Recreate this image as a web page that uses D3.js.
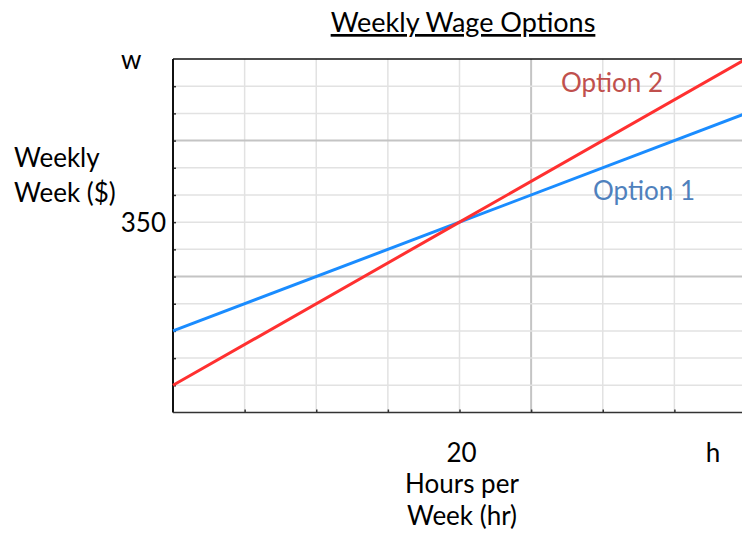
<!DOCTYPE html>
<html>
<head>
<meta charset="utf-8">
<title>Weekly Wage Options</title>
<script src="https://cdn.jsdelivr.net/npm/d3@7/dist/d3.min.js"></script>
<style type="text/css">
	body { margin: 0; background: #fff; }
	text { font-family: Lato, "Open Sans", sans-serif; }
	.minor { stroke: #e2e2e2; stroke-width: 1.5px; }
	.major { stroke: #c4c4c4; stroke-width: 2px; }
</style>
</head>
<body>
<script type="text/javascript">

// data
var hours = [0, 20, 40];
var option1 = [150, 350, 550];
var option2 = [50, 350, 650];
var seriesNames = ["Option 1", "Option 2"];
var yTickLabels = [350];
var xTickLabels = [20];

var width = 742,
    height = 539;

var x = d3.scaleLinear().domain([0, 40]).range([173, 746]);
var y = d3.scaleLinear().domain([0, 650]).range([412.5, 59]);

var svg = d3.select("body").append("svg").attr("width", width).attr("height", height);

// grid
var xGrid = d3.range(5, 45, 5);
var yGrid = d3.range(50, 650, 50);
svg.selectAll("line.vg").data(xGrid).enter().append("line")
	.attr("class", function(d) { return d % 25 == 0 ? "major" : "minor"; })
	.attr("x1", d => x(d)).attr("x2", d => x(d))
	.attr("y1", y(0)).attr("y2", y(650));
svg.selectAll("line.hg").data(yGrid).enter().append("line")
	.attr("class", function(d) { return d % 250 == 0 ? "major" : "minor"; })
	.attr("x1", x(0)).attr("x2", x(40))
	.attr("y1", d => y(d)).attr("y2", d => y(d));

// axes, ticks inside
svg.append("g").attr("transform", "translate(" + x(0) + ",0)")
	.call(d3.axisRight(y).tickValues(yGrid).tickSize(3).tickFormat(""))
	.call(g => g.select(".domain").remove())
	.selectAll("line").attr("stroke", "#333").attr("stroke-width", 1.5);
svg.append("g").attr("transform", "translate(0," + y(0) + ")")
	.call(d3.axisTop(x).tickValues(xGrid).tickSize(3).tickFormat(""))
	.call(g => g.select(".domain").remove())
	.selectAll("line").attr("stroke", "#333").attr("stroke-width", 1.5);

svg.append("line").attr("x1", x(0)).attr("x2", x(0)).attr("y1", y(650)).attr("y2", y(0))
	.attr("stroke", "#111").attr("stroke-width", 2);
svg.append("line").attr("x1", x(0)).attr("x2", x(40)).attr("y1", y(0)).attr("y2", y(0))
	.attr("stroke", "#333").attr("stroke-width", 1.5);
svg.append("line").attr("x1", x(0)).attr("x2", x(40)).attr("y1", y(650)).attr("y2", y(650))
	.attr("stroke", "#111").attr("stroke-width", 1.5);

// lines
var line = d3.line().x((d, i) => x(hours[i])).y(d => y(d));
svg.append("path").datum(option1).attr("d", line)
	.attr("fill", "none").attr("stroke", "#1a8cff").attr("stroke-width", 3);
svg.append("path").datum(option2).attr("d", line)
	.attr("fill", "none").attr("stroke", "#ff3030").attr("stroke-width", 3);

// labels
svg.append("text").attr("x", 463).attr("y", 32).attr("text-anchor", "middle")
	.attr("font-size", 27).attr("text-decoration", "underline").text("Weekly Wage Options");
svg.append("text").attr("x", 121).attr("y", 69).attr("font-size", 26).text("w");
svg.append("text").attr("x", 14).attr("y", 167).attr("font-size", 26).text("Weekly");
svg.append("text").attr("x", 14).attr("y", 202).attr("font-size", 26).text("Week ($)");
svg.selectAll("text.yl").data(yTickLabels).enter().append("text")
	.attr("x", 166).attr("y", d => y(d) + 10).attr("text-anchor", "end")
	.attr("font-size", 26).text(d => d);
svg.selectAll("text.xl").data(xTickLabels).enter().append("text")
	.attr("x", d => x(d) + 2).attr("y", 462).attr("text-anchor", "middle")
	.attr("font-size", 26).text(d => d);
svg.append("text").attr("x", 713).attr("y", 462).attr("text-anchor", "middle").attr("font-size", 26).text("h");
svg.append("text").attr("x", 462).attr("y", 493).attr("text-anchor", "middle").attr("font-size", 26).text("Hours per");
svg.append("text").attr("x", 462).attr("y", 525).attr("text-anchor", "middle").attr("font-size", 26).text("Week (hr)");

svg.append("text").attr("x", 561).attr("y", 92).attr("font-size", 26).attr("fill", "#c0504d").text(seriesNames[1]);
svg.append("text").attr("x", 593).attr("y", 200).attr("font-size", 26).attr("fill", "#4f81bd").text(seriesNames[0]);

</script>
</body>
</html>
